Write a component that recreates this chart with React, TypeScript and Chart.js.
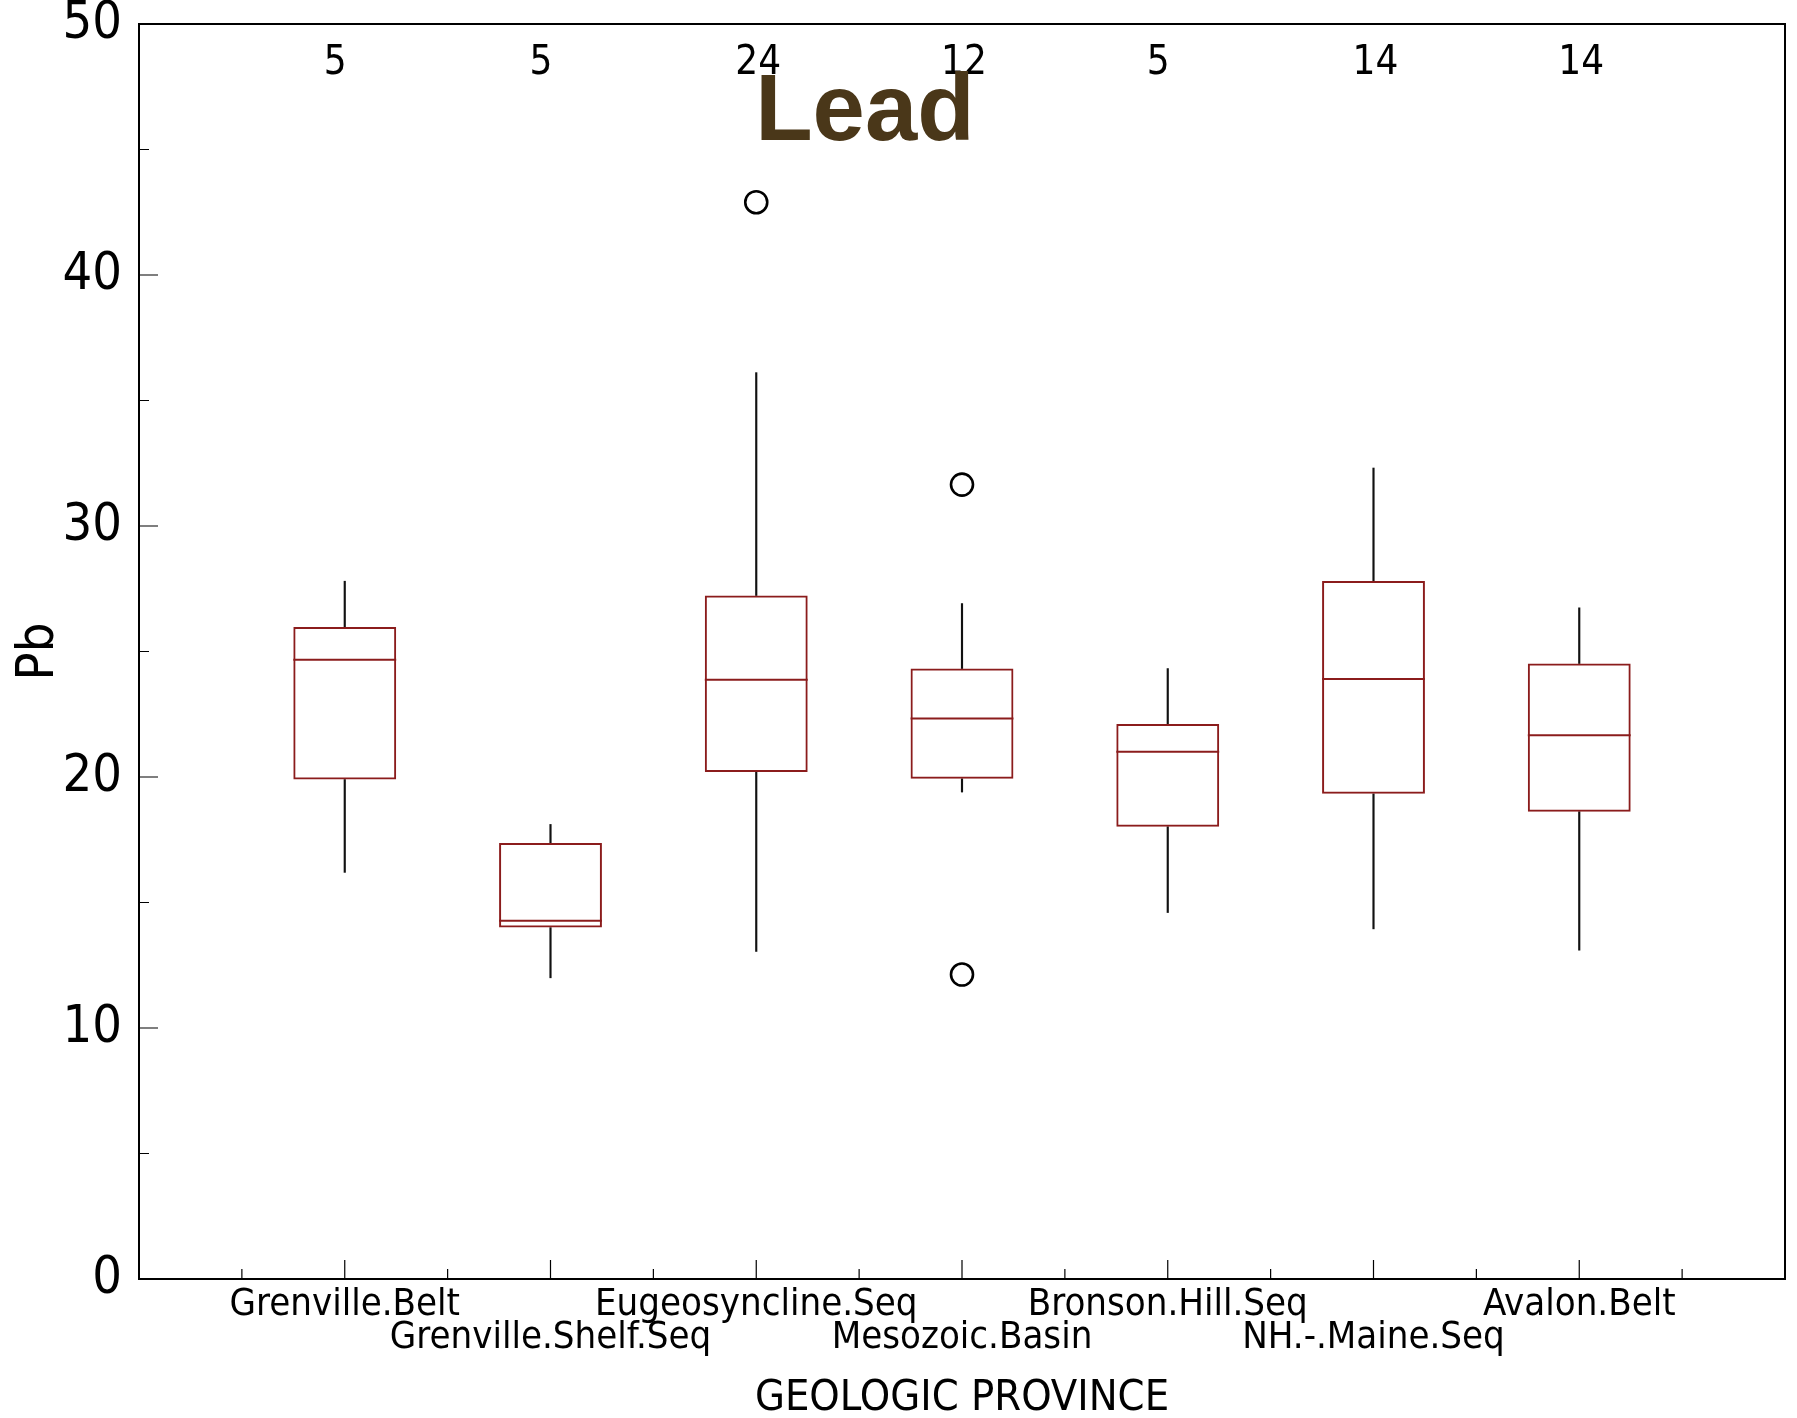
import React, { useEffect, useRef } from 'react';
import { Chart, registerables } from 'chart.js';

Chart.register(...registerables);

// ---- data ----
const categories = [
  'Grenville.Belt',
  'Grenville.Shelf.Seq',
  'Eugeosyncline.Seq',
  'Mesozoic.Basin',
  'Bronson.Hill.Seq',
  'NH.-.Maine.Seq',
  'Avalon.Belt',
];
const counts = [5, 5, 24, 12, 5, 14, 14];
const whiskerLow = [16.2, 12.0, 13.05, 19.4, 14.6, 13.95, 13.1];
const q1 = [19.9, 14.0, 20.2, 19.93, 18.02, 19.33, 18.62];
const median = [24.67, 14.27, 23.87, 22.33, 21.01, 23.9, 21.66];
const q3 = [25.98, 17.37, 27.23, 24.32, 22.11, 27.81, 24.52];
const whiskerHigh = [27.8, 18.11, 36.11, 26.91, 24.32, 32.31, 26.74];
const outlierCategory = ['Eugeosyncline.Seq', 'Mesozoic.Basin', 'Mesozoic.Basin'];
const outlierValue = [42.9, 31.65, 12.13];

const titleText = 'Lead';
const yTitle = 'Pb';
const xTitle = 'GEOLOGIC PROVINCE';
const yMin = 0;
const yMax = 50;
const yStep = 10;

// ---- styles ----
const W = 1797;
const H = 1418;
const BOX_COLOR = '#8b1c1c';
const BOX_HALF = 0.25; // half box width in category units
const NARROW = '"Liberation Sans Narrow", "Arial Narrow", "DejaVu Sans Condensed", "Roboto Condensed", "Liberation Sans", sans-serif';
const BOLD = '"Liberation Sans", Arial, Helvetica, sans-serif';

const pos = (name: string) => categories.indexOf(name) + 1;

const overlayPlugin = {
  id: 'overlay',
  afterDraw(chart: any) {
    const { ctx, chartArea: a, scales } = chart;
    const x = scales.x;
    const y = scales.y;
    ctx.save();
    // frame
    ctx.strokeStyle = '#000';
    ctx.lineWidth = 2;
    ctx.strokeRect(a.left, a.top, a.right - a.left, a.bottom - a.top);
    // inward y ticks (major + minor)
    ctx.lineWidth = 1.2;
    ctx.beginPath();
    for (let v = yMin; v <= yMax; v += yStep / 2) {
      const py = y.getPixelForValue(v);
      const len = v % yStep === 0 ? 19 : 10;
      ctx.moveTo(a.left, py);
      ctx.lineTo(a.left + len, py);
    }
    // inward x ticks
    for (let i = 0; i <= categories.length; i++) {
      const pm = x.getPixelForValue(i + 0.5);
      ctx.moveTo(pm, a.bottom);
      ctx.lineTo(pm, a.bottom - 10);
      if (i >= 1) {
        const pM = x.getPixelForValue(i);
        ctx.moveTo(pM, a.bottom);
        ctx.lineTo(pM, a.bottom - 19);
      }
    }
    ctx.stroke();
    // sample counts
    ctx.fillStyle = '#000';
    ctx.font = `40px ${NARROW}`;
    ctx.textAlign = 'left';
    ctx.textBaseline = 'middle';
    counts.forEach((n, i) => {
      ctx.fillText(String(n), x.getPixelForValue(i + 1) - 21, a.top + 40);
    });
    // title
    ctx.fillStyle = '#4a3719';
    ctx.font = `bold 94px ${BOLD}`;
    ctx.textAlign = 'center';
    ctx.textBaseline = 'alphabetic';
    ctx.fillText(titleText, a.left + (a.right - a.left) * 0.441, a.top + 116);
    ctx.restore();
  },
};

export default function App() {
  const ref = useRef<HTMLCanvasElement | null>(null);

  useEffect(() => {
    if (!ref.current) return;
    const boxData = categories.map((c, i) => ({ x: i + 1, y: [q1[i], q3[i]] }));
    const upperWhisker = categories.map((c, i) => ({ x: i + 1, y: [q3[i], whiskerHigh[i]] }));
    const lowerWhisker = categories.map((c, i) => ({ x: i + 1, y: [whiskerLow[i], q1[i]] }));
    const medianData = categories.map((c, i) => ({ x: i + 1, y: median[i] }));
    const outlierData = outlierCategory.map((c, i) => ({ x: pos(c), y: outlierValue[i] }));

    const halfBoxPx = (ctx: any) => {
      const s = ctx.chart.scales.x;
      return (s.getPixelForValue(1) - s.getPixelForValue(0)) * BOX_HALF;
    };

    const chart = new Chart(ref.current, {
      type: 'bar',
      data: {
        datasets: [
          {
            label: 'box',
            data: boxData as any,
            backgroundColor: 'rgba(0,0,0,0)',
            borderColor: BOX_COLOR,
            borderWidth: 2,
            borderSkipped: false,
            grouped: false,
            categoryPercentage: 1,
            barPercentage: BOX_HALF * 2,
          } as any,
          {
            label: 'upper whisker',
            data: upperWhisker as any,
            backgroundColor: '#111',
            borderWidth: 0,
            grouped: false,
            categoryPercentage: 1,
            barPercentage: 1,
            maxBarThickness: 1.5,
          } as any,
          {
            label: 'lower whisker',
            data: lowerWhisker as any,
            backgroundColor: '#111',
            borderWidth: 0,
            grouped: false,
            categoryPercentage: 1,
            barPercentage: 1,
            maxBarThickness: 1.5,
          } as any,
          {
            type: 'scatter',
            label: 'median',
            data: medianData,
            pointStyle: 'line',
            pointRadius: halfBoxPx,
            pointBorderColor: BOX_COLOR,
            pointBorderWidth: 2,
            showLine: false,
          } as any,
          {
            type: 'scatter',
            label: 'outliers',
            data: outlierData,
            pointStyle: 'circle',
            pointRadius: 11,
            pointBorderColor: '#000',
            pointBackgroundColor: 'rgba(0,0,0,0)',
            pointBorderWidth: 2.6,
            showLine: false,
          } as any,
        ],
      },
      options: {
        responsive: false,
        animation: false,
        devicePixelRatio: 1,
        events: [],
        layout: { padding: { top: 24, right: 12, left: 0, bottom: 0 }, autoPadding: false } as any,
        plugins: {
          legend: { display: false },
          tooltip: { enabled: false },
          title: { display: false },
        },
        scales: {
          x: {
            type: 'linear',
            min: 0,
            max: categories.length + 1,
            offset: false,
            grid: { display: false, drawTicks: false },
            border: { display: false },
            ticks: {
              stepSize: 1,
              autoSkip: false,
              maxRotation: 0,
              minRotation: 0,
              padding: 10,
              color: '#000',
              font: { family: NARROW, size: 38, lineHeight: 0.87 },
              callback: (value: any) => {
                const i = Number(value) - 1;
                if (!Number.isInteger(i) || i < 0 || i >= categories.length) return '';
                return i % 2 === 0 ? categories[i] : ['', categories[i]];
              },
            },
            title: {
              display: true,
              text: xTitle,
              color: '#000',
              font: { family: NARROW, size: 43, lineHeight: 0.9 },
              padding: { top: 0, bottom: 0 },
            },
            afterFit: (scale: any) => {
              scale.height = 139;
              scale.paddingLeft = 0;
              scale.paddingRight = 0;
            },
          } as any,
          y: {
            type: 'linear',
            min: yMin,
            max: yMax,
            grid: { display: false, drawTicks: false },
            border: { display: false },
            ticks: {
              stepSize: yStep,
              padding: 17,
              color: '#000',
              font: { family: NARROW, size: 52, lineHeight: 1 },
            },
            title: {
              display: true,
              text: yTitle,
              color: '#000',
              font: { family: NARROW, size: 52, lineHeight: 1 },
              padding: { top: 13, bottom: 0 },
            },
            afterFit: (scale: any) => {
              scale.width = 139;
              scale.paddingTop = 0;
              scale.paddingBottom = 0;
            },
          } as any,
        },
      },
      plugins: [overlayPlugin],
    });
    return () => chart.destroy();
  }, []);

  return (
    <div style={{ position: 'absolute', left: 0, top: 0, width: W, height: H, background: '#fff' }}>
      <canvas ref={ref} width={W} height={H} style={{ display: 'block', width: W, height: H }} />
    </div>
  );
}
